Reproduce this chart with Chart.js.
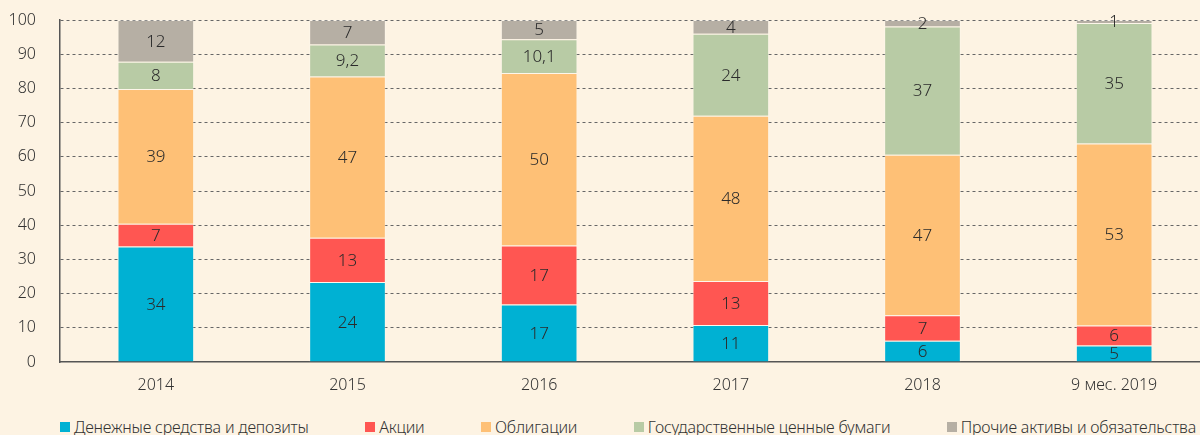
<!DOCTYPE html>
<html>
<head>
<meta charset="utf-8">
<script src="https://cdn.jsdelivr.net/npm/chart.js"></script>
<style>
  html, body { margin: 0; padding: 0; background: #fdf3e3; overflow: hidden; }
  #wrap { position: relative; width: 1210px; height: 435px; }
  #chart-box { position: absolute; left: 0; top: 0; width: 1210px; height: 400px; }
  #legend { position: absolute; left: 60px; top: 416px; width: 1136px; display: flex; justify-content: space-between;
    font-family: "Noto Sans", sans-serif; font-weight: 300; font-size: 16px; color: #333; white-space: nowrap; letter-spacing: -0.2px; }
  #legend span.item { display: flex; align-items: center; }
  #legend i { display: inline-block; width: 10px; height: 10px; margin-right: 4px; }
</style>
</head>
<body>
<div id="wrap">
  <div id="chart-box"><canvas id="c"></canvas></div>
  <div id="legend"></div>
</div>
<script>
const categories = ["2014", "2015", "2016", "2017", "2018", "9 мес. 2019"];
const seriesNames = ["Денежные средства и депозиты", "Акции", "Облигации", "Государственные ценные бумаги", "Прочие активы и обязательства"];
const colors = ["#00b1d3", "#ff5652", "#fec076", "#b8cba5", "#b6afa4"];

// bar heights
const cash   = [33.8, 23.4, 16.8, 10.8, 6.2, 4.8];
const shares = [6.6, 12.9, 17.3, 12.9, 7.5, 5.9];
const bonds  = [39.4, 47.2, 50.4, 48.3, 46.9, 53.2];
const govt   = [8.0, 9.3, 9.9, 24.0, 37.5, 35.2];
const other  = [12.2, 7.2, 5.6, 4.0, 1.9, 0.9];

// printed labels
const cashLabels   = ["34", "24", "17", "11", "6", "5"];
const sharesLabels = ["7", "13", "17", "13", "7", "6"];
const bondsLabels  = ["39", "47", "50", "48", "47", "53"];
const govtLabels   = ["8", "9,2", "10,1", "24", "37", "35"];
const otherLabels  = ["12", "7", "5", "4", "2", "1"];

const yTicks = [0, 10, 20, 30, 40, 50, 60, 70, 80, 90, 100];

const FONT = '"Noto Sans", sans-serif';

const values = [cash, shares, bonds, govt, other];
const labels = [cashLabels, sharesLabels, bondsLabels, govtLabels, otherLabels];

const valueLabels = {
  id: "valueLabels",
  afterDatasetsDraw(chart) {
    const ctx = chart.ctx;
    ctx.save();
    ctx.font = "300 17px " + FONT;
    ctx.fillStyle = "#2b2b2b";
    ctx.textAlign = "center";
    ctx.textBaseline = "middle";
    chart.data.datasets.forEach((ds, i) => {
      chart.getDatasetMeta(i).data.forEach((bar, j) => {
        const p = bar.getProps(["x", "y", "base"], true);
        ctx.fillText(ds.printed[j], p.x, (p.y + p.base) / 2 + 1);
      });
    });
    ctx.restore();
  }
};

new Chart(document.getElementById("c"), {
  type: "bar",
  data: {
    labels: categories,
    datasets: seriesNames.map((name, i) => ({
      label: name,
      data: values[i],
      printed: labels[i],
      backgroundColor: colors[i],
      borderColor: "rgba(255,255,255,0.25)",
      borderWidth: 1,
      barPercentage: 1,
      categoryPercentage: 0.4
    }))
  },
  options: {
    responsive: true,
    maintainAspectRatio: false,
    animation: false,
    layout: { padding: { top: 20, left: 0, right: 0, bottom: 0 } },
    plugins: { legend: { display: false }, tooltip: { enabled: false } },
    scales: {
      x: {
        stacked: true,
        grid: { display: false, drawTicks: false },
        border: { display: true, color: "#555", width: 1.5 },
        ticks: { padding: 14, color: "#333", font: { family: FONT, size: 16, weight: 300 }, maxRotation: 0 },
        afterFit(scale) { scale.height = 38; }
      },
      y: {
        stacked: true,
        min: 0,
        max: 100,
        afterBuildTicks(scale) { scale.ticks = yTicks.map(v => ({ value: v })); },
        grid: {
          drawTicks: false,
          color: ctx => ctx.tick.value === 0 ? "rgba(0,0,0,0)" : "#666",
          lineWidth: 1
        },
        border: { display: true, color: "#555", width: 1.5, dash: [3, 3] },
        ticks: { padding: 24, color: "#333", font: { family: FONT, size: 16, weight: 300 } },
        afterFit(scale) { scale.width = 60; scale.paddingTop = 0; scale.paddingBottom = 0; }
      }
    }
  },
  plugins: [valueLabels]
});

const legend = document.getElementById("legend");
seriesNames.forEach((name, i) => {
  const item = document.createElement("span");
  item.className = "item";
  item.innerHTML = `<i style="background:${colors[i]}"></i>${name}`;
  legend.appendChild(item);
});
</script>
</body>
</html>
